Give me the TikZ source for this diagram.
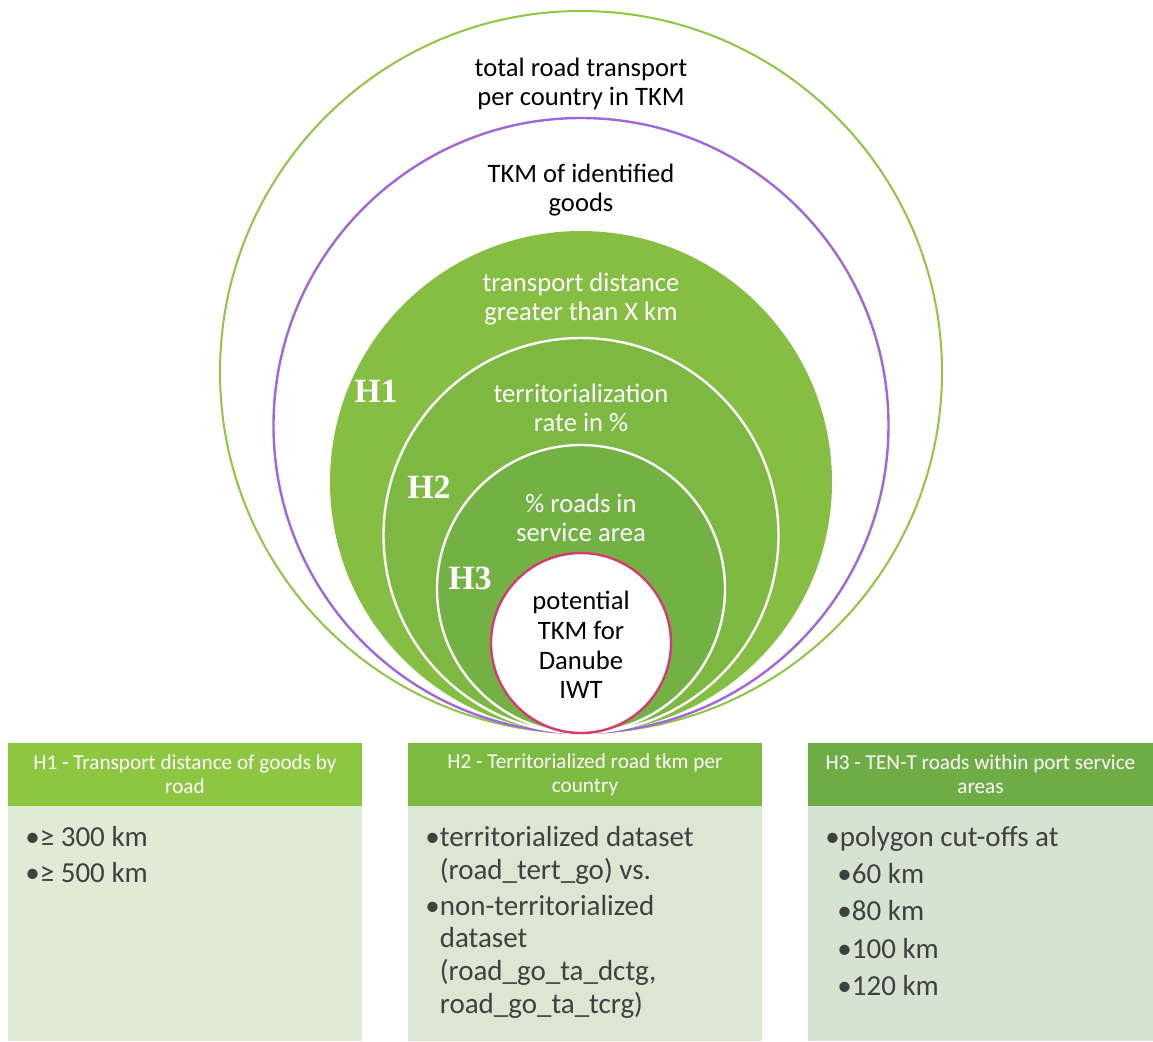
\documentclass[tikz,border=0pt]{standalone}
\usepackage{fontspec}
\setmainfont{Carlito}
\newfontfamily\hfont{Liberation Serif}

\definecolor{outergreen}{RGB}{141,198,63}
\definecolor{purpleline}{RGB}{160,102,222}
\definecolor{pinkline}{RGB}{214,58,110}
\definecolor{hOne}{RGB}{134,190,67}
\definecolor{hTwo}{RGB}{125,184,67}
\definecolor{hThree}{RGB}{116,177,68}
\definecolor{headOne}{RGB}{141,198,65}
\definecolor{headTwo}{RGB}{125,186,66}
\definecolor{headThree}{RGB}{111,172,70}
\definecolor{bodyOne}{RGB}{223,235,212}
\definecolor{bodyTwo}{RGB}{219,230,211}
\definecolor{bodyThree}{RGB}{215,227,210}
\definecolor{bodygray}{RGB}{64,64,64}

\begin{document}
\begin{tikzpicture}[x=0.5pt,y=-0.5pt,
    ringtxt/.style={align=center,font=\fontsize{13.3}{14.8}\selectfont},
    hlabel/.style={text=white,font=\hfont\bfseries\fontsize{17}{19}\selectfont},
    headbox/.style={minimum width=177pt,minimum height=31.5pt,inner sep=0pt,text=white,
      align=center,font=\fontsize{10.6}{12}\selectfont},
    bodytxt/.style={text=bodygray,align=left,anchor=north west,inner sep=0pt,
      font=\fontsize{14.5}{18.6}\selectfont}]
  \useasboundingbox (0,0) rectangle (1153,1041);

  % nested circles, all touching at the bottom
  \draw[outergreen, line width=1pt] (581,372) circle[radius=180.5pt];
  \draw[purpleline, line width=1.2pt] (581,425.5) circle[radius=153.75pt];
  \fill[hOne] (581,482) circle[radius=125.5pt];
  \draw[white, fill=hTwo, line width=1.2pt] (581,535.5) circle[radius=98.75pt];
  \draw[white, fill=hThree, line width=1.2pt] (581,589) circle[radius=72pt];
  \draw[pinkline, fill=white, line width=1.2pt] (581,643) circle[radius=45pt];

  % ring texts
  \node[ringtxt] (total) at (581,84) {total road transport\\per country in TKM};
  \node[ringtxt] (goods) at (581,190) {TKM of identified\\goods};
  \node[ringtxt, text=white] (dist) at (581,299) {transport distance\\greater than X km};
  \node[ringtxt, text=white] (terr) at (581,408) {territorialization\\rate in \%};
  \node[ringtxt, text=white] (serv) at (581,518) {\% roads in\\service area};
  \node[ringtxt] (pot) at (581,645) {potential\\TKM for\\Danube\\IWT};

  \node[hlabel] (lblOne) at (376,391) {H1};
  \node[hlabel] (lblTwo) at (429,487) {H2};
  \node[hlabel] (lblThree) at (470,578) {H3};

  % boxes below
  \fill[bodyOne] (8,806) rectangle (362,1041);
  \fill[bodyTwo] (408,806) rectangle (762,1041);
  \fill[bodyThree] (808,806) rectangle (1153,1041);
  \node[headbox, fill=headOne] (headH1) at (185,774.5) {H1 - Transport distance of goods by\\road};
  \node[headbox, fill=headTwo] (headH2) at (585,774.5) {H2 - Territorialized road tkm per\\country};
  \node[headbox, fill=headThree, minimum width=172.5pt] (headH3) at (980.5,774.5) {H3 - TEN-T roads within port service\\areas};

  \node[bodytxt, font=\fontsize{14.5}{18}\selectfont] (listH1) at (25,826) {•≥ 300 km\\•≥ 500 km};
  \node[bodytxt, font=\fontsize{14.5}{16.4}\selectfont] (listH2) at (425,826)
    {•territorialized dataset\\\hphantom{•}(road\_tert\_go) vs.\\[1.5pt]
     •non-territorialized\\\hphantom{•}dataset\\\hphantom{•}(road\_go\_ta\_dctg,\\\hphantom{•}road\_go\_ta\_tcrg)};
  \node[bodytxt] (listH3) at (825,826)
    {•polygon cut-offs at\\\hspace{6pt}•60 km\\\hspace{6pt}•80 km\\\hspace{6pt}•100 km\\\hspace{6pt}•120 km};
\end{tikzpicture}
\end{document}
